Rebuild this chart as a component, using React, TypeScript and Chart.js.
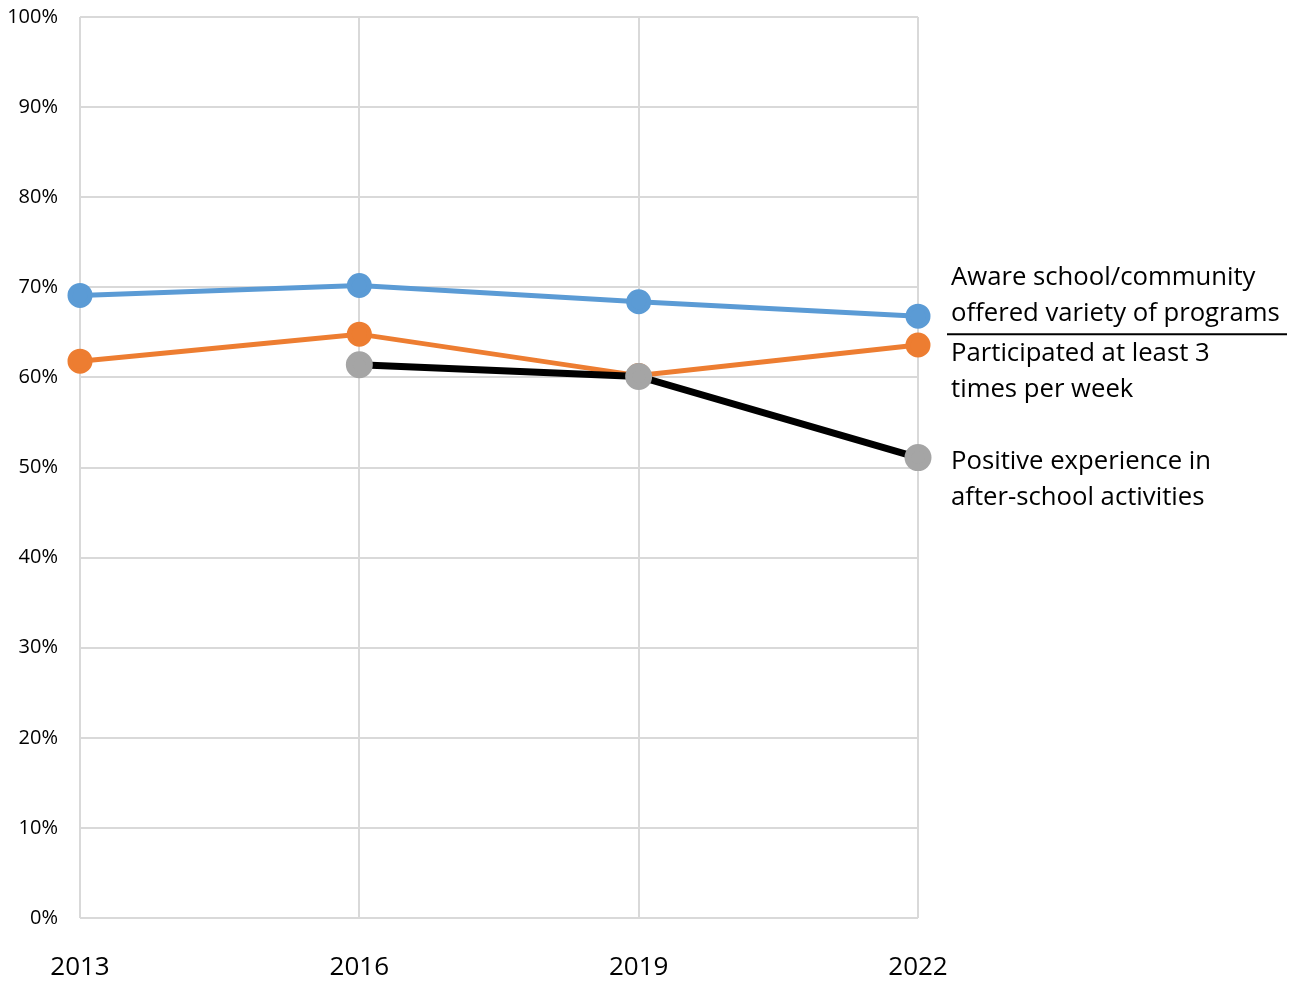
import React, { useEffect, useRef } from "react";
import { Chart, registerables } from "chart.js";

Chart.register(...registerables);

const years = ["2013", "2016", "2019", "2022"];
const awareValues = [69.1, 70.2, 68.4, 66.8];
const participatedValues = [61.8, 64.8, 60.2, 63.6];
const positiveValues = [null, 61.4, 60.1, 51.1];
const awareLabel = ["Aware school/community", "offered variety of programs"];
const participatedLabel = ["Participated at least 3", "times per week"];
const positiveLabel = ["Positive experience in", "after-school activities"];

const FONT = "'Open Sans', sans-serif";

const labelPlugin = {
  id: "endLabels",
  afterDraw(chart: any) {
    const ctx = chart.ctx;
    const y = chart.scales.y;
    const x0 = chart.chartArea.right + 33;
    const lh = 36;
    const groups = [
      { lines: awareLabel, v: awareValues[3], off: -38 },
      { lines: participatedLabel, v: participatedValues[3], off: 9 },
      { lines: positiveLabel, v: positiveValues[3] as number, off: 4 },
    ];
    ctx.save();
    ctx.fillStyle = "#000";
    ctx.font = `25.7px ${FONT}`;
    ctx.textBaseline = "middle";
    ctx.textAlign = "left";
    groups.forEach((g) => {
      const base = y.getPixelForValue(g.v) + g.off;
      g.lines.forEach((t, i) => ctx.fillText(t, x0, base + i * lh));
    });
    // separator line under first label
    const ly = y.getPixelForValue(awareValues[3]) + 18;
    ctx.strokeStyle = "#000";
    ctx.lineWidth = 2;
    ctx.beginPath();
    ctx.moveTo(chart.chartArea.right + 29, ly);
    ctx.lineTo(chart.chartArea.right + 369, ly);
    ctx.stroke();
    ctx.restore();
  },
};

export default function App() {
  const ref = useRef<HTMLCanvasElement>(null);
  useEffect(() => {
    const chart = new Chart(ref.current!, {
      type: "line",
      data: {
        labels: years,
        datasets: [
          {
            label: "Positive",
            data: positiveValues,
            borderColor: "#000000",
            backgroundColor: "#A5A5A5",
            pointBackgroundColor: "#A5A5A5",
            pointBorderColor: "#A5A5A5",
            borderWidth: 7,
            pointRadius: 10,
            order: 0,
          },
          {
            label: "Participated",
            data: participatedValues,
            borderColor: "#ED7D31",
            backgroundColor: "#ED7D31",
            pointBackgroundColor: "#ED7D31",
            pointBorderColor: "#ED7D31",
            borderWidth: 5,
            pointRadius: 10,
            order: 1,
          },
          {
            label: "Aware",
            data: awareValues,
            borderColor: "#5B9BD5",
            backgroundColor: "#5B9BD5",
            pointBackgroundColor: "#5B9BD5",
            pointBorderColor: "#5B9BD5",
            borderWidth: 5,
            pointRadius: 10,
            order: 2,
          },
        ],
      },
      options: {
        animation: false,
        responsive: false,
        maintainAspectRatio: false,
        layout: { padding: { top: 17, right: 381, bottom: 0, left: 0 } },
        plugins: { legend: { display: false }, tooltip: { enabled: false } },
        scales: {
          x: {
            offset: false,
            grid: { color: "#D9D9D9", lineWidth: 2, drawTicks: false },
            border: { display: false },
            ticks: {
              padding: 34,
              color: "#000",
              font: { family: FONT, size: 26 },
              maxRotation: 0,
            },
            afterFit: (s: any) => { s.height = 67; },
          },
          y: {
            min: 0,
            max: 100,
            grid: { color: "#D9D9D9", lineWidth: 2, drawTicks: false },
            border: { display: false },
            ticks: {
              stepSize: 10,
              padding: 22,
              color: "#000",
              font: { family: FONT, size: 20 },
              callback: (v: any) => v + "%",
            },
            afterFit: (s: any) => {
              s.width = 80;
              s.paddingTop = 0;
              s.paddingBottom = 0;
            },
          },
        },
      },
      plugins: [labelPlugin],
    });
    return () => chart.destroy();
  }, []);
  return (
    <div style={{ position: "fixed", left: 0, top: 0, width: 1299, height: 985 }}>
      <canvas ref={ref} width={1299} height={985} />
    </div>
  );
}
